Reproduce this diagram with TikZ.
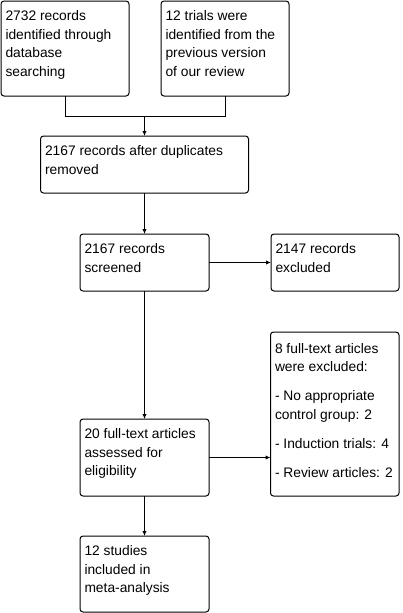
\documentclass[tikz,border=0pt]{standalone}
\usepackage{fontspec}
\setmainfont{Liberation Sans}
\usetikzlibrary{arrows.meta}
\newcommand{\boxtxt}[4]{\parbox[c][#2pt][t]{#1pt}{\raggedright\fontsize{13.8}{18.7}\selectfont\rule{0pt}{#3pt}#4}}
\tikzset{
  box/.style={draw, line width=1pt, rounded corners=3pt, anchor=north west, inner xsep=4.5pt, inner ysep=0pt, outer sep=0pt},
  conn/.style={line width=1pt},
  arr/.style={line width=1pt, -{Latex[length=5pt,width=4.5pt]}}
}
\begin{document}
\begin{tikzpicture}[x=1pt,y=-1pt]
\useasboundingbox (0,0) rectangle (402,613);
\node[box] (a) at (1,1) {\boxtxt{119}{95}{19.5}{2732 records\\identified through\\database\\searching}};
\node[box] (b) at (161,1) {\boxtxt{119}{95}{19.5}{12 trials were\\identified from the\\previous version\\of our review}};
\node[box] (c) at (40.5,136) {\boxtxt{199}{57}{19.5}{2167 records after duplicates\\removed}};
\node[box] (d) at (80,234) {\boxtxt{120}{57}{19.5}{2167 records\\screened}};
\node[box] (e) at (271,234) {\boxtxt{119}{57}{19.5}{2147 records\\excluded}};
\node[box] (f) at (270.5,332) {\boxtxt{119.5}{164}{21}{8 full-text articles\\were excluded:\\[10.3pt]- No appropriate\\control group: 2\\[10.3pt]- Induction trials: 4\\[10.3pt]- Review articles: 2}};
\node[box] (g) at (80,419) {\boxtxt{120}{77}{19.5}{20 full-text articles\\assessed for\\eligibility}};
\node[box] (h) at (80,536) {\boxtxt{120}{76}{19.5}{12 studies\\included in\\meta-analysis}};
\coordinate (j) at (144.5,116);
\draw[conn] (a.south) -- ++(0,20) -| (b.south);
\draw[arr] (j) -- (c.north);
\draw[arr] (c.south) -- (c.south |- d.north);
\draw[arr] (d.east) -- (e.west);
\draw[arr] (d.south) -- (g.north);
\draw[arr] (g.east) -- (g.east -| f.west);
\draw[arr] (g.south) -- (h.north);
\end{tikzpicture}
\end{document}
